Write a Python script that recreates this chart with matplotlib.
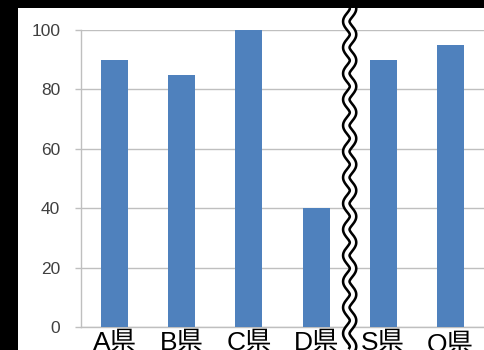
import numpy as np
import matplotlib
matplotlib.use("Agg")
import matplotlib.pyplot as plt
from matplotlib.patches import Rectangle

plt.rcParams['font.family'] = ['Noto Sans CJK JP', 'DejaVu Sans']

# data
categories = ["A県", "B県", "C県", "D県", "S県", "Q県"]
values = [90, 85, 100, 40, 90, 95]
yticks = [0, 20, 40, 60, 80, 100]

BAR = "#4F81BD"
GRID = "#BFBFBF"

fig = plt.figure(figsize=(4.84, 3.5), dpi=100, facecolor="black")
# white canvas inside black frame
fig.add_artist(Rectangle((18 / 484, 0), 1 - 18 / 484, 1 - 8 / 350,
                         transform=fig.transFigure, facecolor="white",
                         edgecolor="none", zorder=0))

ax = fig.add_axes([81 / 484, 1 - 327 / 350, 1 - 81 / 484, 297 / 350])
ax.set_facecolor("none")

x = np.arange(len(categories))
ax.bar(x, values, width=0.4, color=BAR, zorder=3)

ax.set_xlim(-0.5, len(categories) - 0.5)
ax.set_ylim(0, 100)
ax.set_yticks(yticks)
ax.set_yticklabels([str(t) for t in yticks], color="#404040", fontsize=12.5,
                   family=["Liberation Sans", "DejaVu Sans"])
ax.tick_params(axis="y", length=4.5, color=GRID, width=1, pad=10.5)
ax.grid(axis="y", color=GRID, linewidth=1, zorder=0)

ax.set_xticks(x)
ax.set_xticklabels(categories, fontsize=19, color="black",
                   family=["Liberation Sans", "Noto Sans CJK JP"])
ax.tick_params(axis="x", length=0, pad=3)

for side in ["top", "right"]:
    ax.spines[side].set_visible(False)
ax.spines["left"].set_color(GRID)
ax.spines["bottom"].set_color(GRID)
ax.spines["left"].set_linewidth(1)
ax.spines["bottom"].set_linewidth(1)

# wavy break line between D and S
yy = np.linspace(1 + 22 / 297, -25 / 297, 400)
xx = 3.5 + 0.05 * np.sin(yy * 297 / 26 * 2 * np.pi)
trans = ax.get_xaxis_transform()
ax.plot(xx, yy, color="black", lw=6.5, transform=trans, clip_on=False,
        zorder=5, solid_capstyle="butt")
ax.plot(xx, yy, color="white", lw=2.8, transform=trans, clip_on=False,
        zorder=6, solid_capstyle="butt")

fig.savefig("out.png", dpi=100, facecolor=fig.get_facecolor())
